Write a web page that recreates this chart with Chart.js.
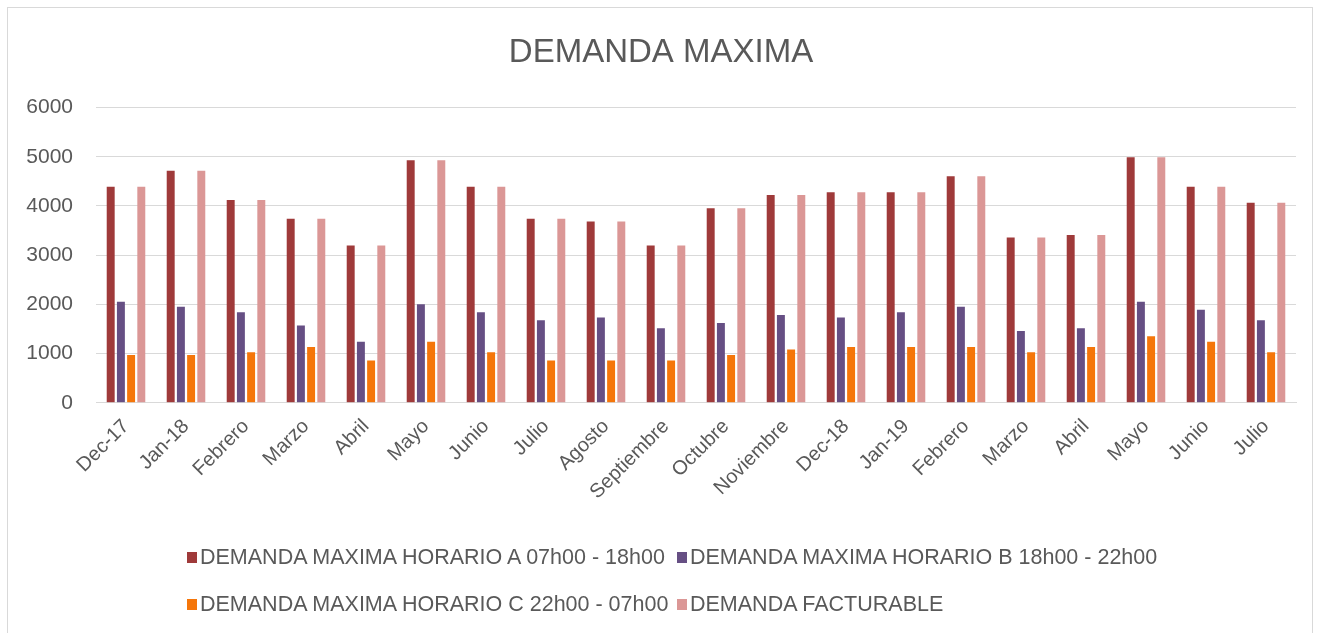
<!DOCTYPE html>
<html lang="es">
<head>
    <meta charset="UTF-8">
    <title>Demanda Maxima</title>
    <script src="https://cdn.jsdelivr.net/npm/chart.js"></script>
    <style>
        body {
            margin: 0;
            background-color: #ffffff;
            font-family: "Liberation Sans", Arial, sans-serif;
        }

        #wrap {
            position: relative;
            width: 1320px;
            height: 633px;
            overflow: hidden;
        }

        #frame {
            position: absolute;
            left: 7px;
            top: 7px;
            width: 1306px;
            height: 640px;
            border: 1px solid #d9d9d9;
            box-sizing: border-box;
        }

        #legend {
            position: absolute;
            left: 187px;
            top: 545px;
            display: grid;
            grid-template-columns: 490px auto;
            row-gap: 22px;
            font-size: 21.5px;
            color: #595959;
        }

        .item {
            display: flex;
            align-items: center;
            white-space: nowrap;
        }

        .box {
            width: 10px;
            height: 11px;
            margin-right: 3px;
        }
    </style>
</head>
<body>
    <div id="wrap">
        <div id="frame"></div>
        <canvas id="chartCanvas" width="1320" height="633"></canvas>
        <div id="legend"></div>
    </div>
    <script>
        // Meses
        const categories = [
            "Dec-17", "Jan-18", "Febrero", "Marzo", "Abril", "Mayo", "Junio", "Julio",
            "Agosto", "Septiembre", "Octubre", "Noviembre", "Dec-18", "Jan-19",
            "Febrero", "Marzo", "Abril", "Mayo", "Junio", "Julio"
        ];

        const horarioA = [4390, 4715, 4120, 3740, 3195, 4930, 4390, 3740, 3685, 3195,
                          3955, 4225, 4280, 4280, 4605, 3360, 3410, 4990, 4390, 4065];
        const horarioB = [2055, 1950, 1840, 1570, 1240, 2000, 1840, 1675, 1730, 1515,
                          1620, 1785, 1730, 1840, 1950, 1460, 1515, 2055, 1890, 1675];
        const horarioC = [970, 970, 1025, 1135, 860, 1240, 1025, 860, 860, 860,
                          970, 1080, 1135, 1135, 1135, 1025, 1135, 1350, 1240, 1025];
        const facturable = [4390, 4715, 4120, 3740, 3195, 4930, 4390, 3740, 3685, 3195,
                            3955, 4225, 4280, 4280, 4605, 3360, 3410, 4990, 4390, 4065];

        const yTicks = [0, 1000, 2000, 3000, 4000, 5000, 6000];

        const seriesNames = [
            "DEMANDA MAXIMA HORARIO A 07h00 - 18h00",
            "DEMANDA MAXIMA HORARIO B 18h00 - 22h00",
            "DEMANDA MAXIMA HORARIO C 22h00 - 07h00",
            "DEMANDA FACTURABLE"
        ];

        const colors = ["#9F3A3A", "#664F84", "#F5760A", "#DB9796"];

        const textColor = "#595959";
        const gridColor = "#d9d9d9";

        const datasets = [horarioA, horarioB, horarioC, facturable].map((values, i) => ({
            label: seriesNames[i],
            data: values,
            backgroundColor: colors[i],
            borderWidth: 0,
            barPercentage: 0.78,
            categoryPercentage: 0.68
        }));

        const ctx = document.getElementById("chartCanvas").getContext("2d");
        const chart = new Chart(ctx, {
            type: "bar",
            data: {
                labels: categories,
                datasets: datasets
            },
            options: {
                responsive: false,
                animation: false,
                layout: {
                    padding: { left: 26, right: 24, top: 0, bottom: 125 }
                },
                plugins: {
                    legend: { display: false },
                    tooltip: { enabled: false },
                    title: {
                        display: true,
                        text: "DEMANDA MAXIMA",
                        color: textColor,
                        font: { family: "Liberation Sans", size: 33, weight: "normal" },
                        padding: { top: 33, bottom: 35 }
                    }
                },
                scales: {
                    x: {
                        grid: { display: false },
                        border: { color: gridColor },
                        ticks: {
                            color: textColor,
                            font: { family: "Liberation Sans", size: 20 },
                            minRotation: 45,
                            maxRotation: 45,
                            autoSkip: false,
                            padding: 4
                        }
                    },
                    y: {
                        min: 0,
                        max: 6000,
                        afterBuildTicks: (axis) => {
                            axis.ticks = yTicks.map(v => ({ value: v }));
                        },
                        afterFit: (axis) => {
                            axis.width = 70;
                        },
                        grid: { color: gridColor, drawTicks: false },
                        border: { display: false },
                        ticks: {
                            color: textColor,
                            font: { family: "Liberation Sans", size: 21 },
                            padding: 23,
                            callback: (value) => String(value)
                        }
                    }
                }
            }
        });

        // Leyenda en dos columnas como en Excel
        const legend = document.getElementById("legend");
        chart.data.datasets.forEach(ds => {
            const item = document.createElement("div");
            item.className = "item";
            const box = document.createElement("span");
            box.className = "box";
            box.style.backgroundColor = ds.backgroundColor;
            item.appendChild(box);
            item.appendChild(document.createTextNode(ds.label));
            legend.appendChild(item);
        });
    </script>
</body>
</html>
